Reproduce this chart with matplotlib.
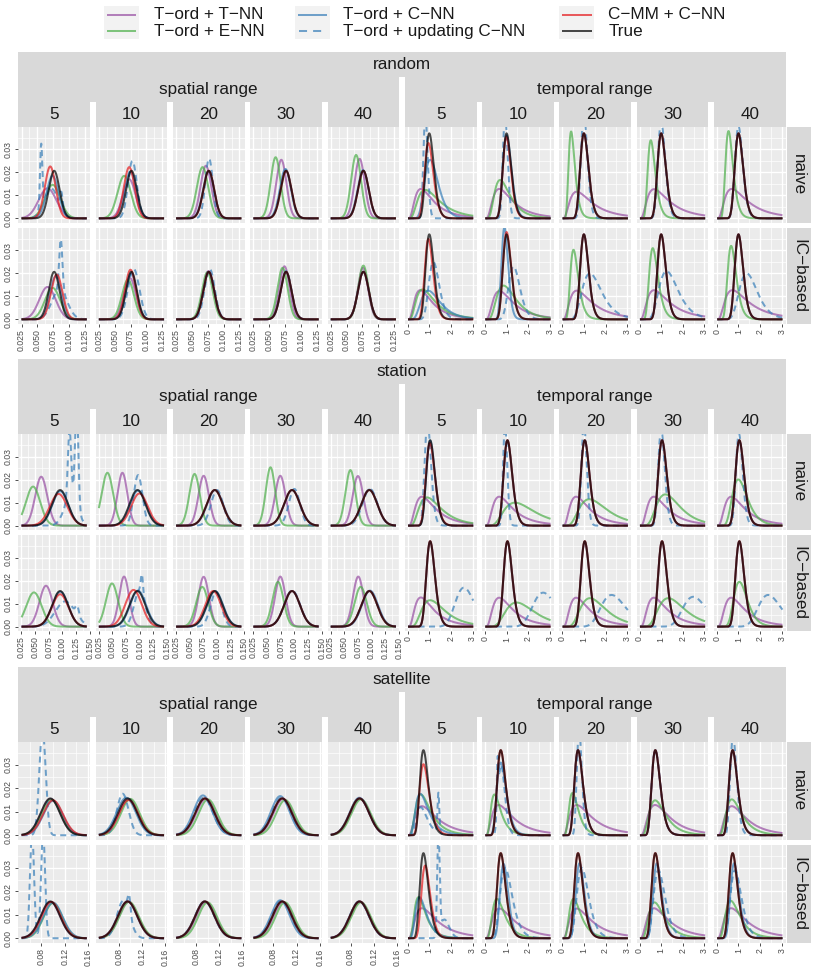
import numpy as np
import matplotlib.pyplot as plt
from matplotlib.patches import Rectangle
from matplotlib.ticker import FixedLocator, FixedFormatter

plt.rcParams['font.family'] = ['Liberation Sans', 'DejaVu Sans']

# ---- labels ----
methods = ['T−ord + T−NN', 'T−ord + E−NN', 'T−ord + C−NN',
           'T−ord + updating C−NN', 'C−MM + C−NN', 'True']
method_colors = ['#984EA3', '#4DAF4A', '#377EB8', '#377EB8', '#E41A1C', '#000000']
method_dashed = [False, False, False, True, False, False]

sections = ['random', 'station', 'satellite']
row_labels = ['naive', 'IC−based']
range_groups = ['spatial range', 'temporal range']
range_values = ['5', '10', '20', '30', '40']

# range of the estimates drawn in the spatial columns, per section
spatial_lo = [0.025, 0.0254, 0.046]
spatial_hi = [0.128, 0.1444, 0.158]
temporal_lo, temporal_hi = 0.02, 3.03

spatial_ticks = [[0.025, 0.050, 0.075, 0.100, 0.125],
                 [0.025, 0.050, 0.075, 0.100, 0.125, 0.150],
                 [0.08, 0.12, 0.16]]
spatial_minor = [[0.0375, 0.0625, 0.0875, 0.1125],
                 [0.0375, 0.0625, 0.0875, 0.1125, 0.1375],
                 [0.06, 0.10, 0.14]]
spatial_ticklabels = [['0.025', '0.050', '0.075', '0.100', '0.125'],
                      ['0.025', '0.050', '0.075', '0.100', '0.125', '0.150'],
                      ['0.08', '0.12', '0.16']]
temporal_ticks = [0, 1, 2, 3]
temporal_minor = [0.5, 1.5, 2.5]
y_ticks = [0.00, 0.01, 0.02, 0.03]
y_minor = [0.005, 0.015, 0.025, 0.035]
y_ticklabels = ['0.00', '0.01', '0.02', '0.03']

# ---- density curves ----
# each column: (mode, spread, height) or a list of such bumps;
# 5 spatial range columns then 5 temporal range columns
rnd_true = [(0.0765, 0.0085, 0.0207)] * 5 + [(1.0, 0.19, 0.037)] * 5
stn_true = [(0.0958, 0.0145, 0.0155)] * 5 + [(1.04, 0.19, 0.0372)] * 5
sat_true = [(0.0954, 0.0165, 0.0157)] * 5 + [(0.73, 0.27, 0.0363)] * 5

rnd_naive_tnn = [(0.066, 0.014, 0.0131), (0.073, 0.010, 0.0170), (0.072, 0.0085, 0.0229),
                 (0.069, 0.008, 0.0255), (0.0706, 0.008, 0.0259),
                 (0.61, 0.65, 0.0128), (0.66, 0.65, 0.0128), (0.67, 0.7, 0.0116),
                 (0.67, 0.7, 0.0127), (0.69, 0.7, 0.0128)]
rnd_naive_enn = [(0.074, 0.012, 0.0146), (0.065, 0.0105, 0.0185), (0.0667, 0.009, 0.0223),
                 (0.060, 0.0078, 0.0266), (0.065, 0.0078, 0.0276),
                 (0.81, 0.6, 0.0124), (0.70, 0.5, 0.0167), (0.41, 0.35, 0.0378),
                 (0.52, 0.33, 0.034), (0.54, 0.32, 0.038)]
rnd_naive_cnn = [(0.074, 0.0095, 0.0185), (0.075, 0.009, 0.0204), (0.076, 0.0087, 0.0205),
                 (0.0755, 0.0086, 0.0215), (0.076, 0.0086, 0.021),
                 (1.04, 0.3, 0.0255), (1.0, 0.2, 0.036), (1.0, 0.19, 0.037),
                 (1.0, 0.19, 0.037), (1.0, 0.19, 0.037)]
rnd_naive_ucnn = [[(0.056, 0.0018, 0.028), (0.072, 0.011, 0.013), (0.088, 0.002, 0.007)],
                  (0.078, 0.007, 0.025), (0.077, 0.006, 0.026),
                  (0.076, 0.0086, 0.021), (0.0765, 0.0085, 0.0207),
                  (0.82, 0.12, 0.045), (0.93, 0.12, 0.045), (1.0, 0.15, 0.045),
                  (1.0, 0.17, 0.042), (1.0, 0.18, 0.04)]
rnd_naive_cmm = [(0.0703, 0.0085, 0.0226), (0.073, 0.0085, 0.0223), (0.0765, 0.0085, 0.0207),
                 (0.0765, 0.0085, 0.0207), (0.0765, 0.0085, 0.0207),
                 (0.96, 0.21, 0.0328), (0.99, 0.19, 0.0355), (1.0, 0.19, 0.037),
                 (1.0, 0.19, 0.037), (1.0, 0.19, 0.037)]

rnd_ic_tnn = [(0.066, 0.013, 0.0141), (0.074, 0.0095, 0.018), (0.076, 0.0085, 0.021),
              (0.074, 0.008, 0.0231), (0.076, 0.008, 0.0224),
              (0.58, 0.65, 0.0127), (0.67, 0.65, 0.0123), (0.67, 0.7, 0.0125),
              (0.67, 0.7, 0.0127), (0.72, 0.7, 0.0127)]
rnd_ic_enn = [(0.074, 0.012, 0.0137), (0.071, 0.0095, 0.0173), (0.0743, 0.0085, 0.0205),
              (0.071, 0.008, 0.0224), (0.0765, 0.008, 0.0234),
              (0.69, 0.6, 0.013), (0.86, 0.5, 0.0147), (0.52, 0.35, 0.0303),
              (0.61, 0.33, 0.031), (0.66, 0.3, 0.032)]
rnd_ic_cnn = [(0.079, 0.009, 0.0188), (0.076, 0.0086, 0.020), (0.0765, 0.0085, 0.0207),
              (0.0765, 0.0085, 0.0207), (0.0765, 0.0085, 0.0207),
              (0.95, 0.45, 0.0125), (0.9, 0.17, 0.040), (1.0, 0.19, 0.037),
              (1.0, 0.19, 0.037), (1.0, 0.19, 0.037)]
rnd_ic_ucnn = [[(0.087, 0.0025, 0.022), (0.085, 0.012, 0.013)],
               (0.080, 0.009, 0.022), (0.078, 0.008, 0.022),
               (0.0765, 0.0085, 0.021), (0.0765, 0.0085, 0.0207),
               (1.19, 0.2, 0.025), (1.32, 0.2, 0.023), (1.28, 0.35, 0.020),
               (1.25, 0.35, 0.021), (1.38, 0.3, 0.020)]
rnd_ic_cmm = [(0.0806, 0.009, 0.0195), (0.075, 0.0085, 0.0216), (0.0765, 0.0085, 0.0207),
              (0.0765, 0.0085, 0.0207), (0.0765, 0.0085, 0.0207),
              (0.96, 0.2, 0.035), (1.0, 0.19, 0.038), (1.0, 0.19, 0.037),
              (1.0, 0.19, 0.037), (1.0, 0.19, 0.037)]

stn_naive_tnn = [(0.0613, 0.011, 0.0213), (0.0684, 0.009, 0.023), (0.0756, 0.0095, 0.0217),
                 (0.0744, 0.0095, 0.0217), (0.075, 0.0095, 0.0216),
                 (0.66, 0.65, 0.0126), (0.66, 0.65, 0.0126), (0.64, 0.65, 0.0126),
                 (0.66, 0.65, 0.0126), (0.66, 0.65, 0.0126)]
stn_naive_enn = [(0.0464, 0.013, 0.017), (0.041, 0.0105, 0.023), (0.059, 0.0095, 0.0225),
                 (0.0565, 0.0085, 0.0254), (0.0613, 0.009, 0.0242),
                 (0.89, 0.55, 0.0123), (1.39, 0.5, 0.010), (1.25, 0.5, 0.0115),
                 (1.19, 0.45, 0.0136), (0.99, 0.35, 0.0201)]
stn_naive_cnn = [(0.096, 0.0145, 0.015), (0.097, 0.0145, 0.0153), (0.0965, 0.0145, 0.0155),
                 (0.096, 0.0145, 0.0155), (0.0958, 0.0145, 0.0157),
                 (1.04, 0.19, 0.037), (1.04, 0.19, 0.037), (1.04, 0.19, 0.037),
                 (1.04, 0.19, 0.037), (1.04, 0.19, 0.037)]
stn_naive_ucnn = [[(0.113, 0.003, 0.03), (0.126, 0.003, 0.045), (0.115, 0.012, 0.012)],
                  (0.097, 0.008, 0.022), (0.100, 0.011, 0.0155),
                  (0.100, 0.010, 0.016), (0.097, 0.0135, 0.016),
                  (0.92, 0.16, 0.045), (0.93, 0.1, 0.045), (1.0, 0.12, 0.045),
                  (1.0, 0.15, 0.042), (1.02, 0.15, 0.040)]
stn_naive_cmm = [(0.093, 0.016, 0.0138), (0.0994, 0.015, 0.014), (0.0958, 0.0145, 0.0155),
                 (0.0958, 0.0145, 0.0155), (0.0958, 0.0145, 0.0155),
                 (1.03, 0.2, 0.036), (1.04, 0.19, 0.0372), (1.04, 0.19, 0.0372),
                 (1.04, 0.19, 0.0372), (1.04, 0.19, 0.0372)]

stn_ic_tnn = [(0.070, 0.012, 0.0178), (0.0714, 0.009, 0.0218), (0.0756, 0.0095, 0.0217),
              (0.0744, 0.0095, 0.0218), (0.0756, 0.0095, 0.0218),
              (0.61, 0.65, 0.0127), (0.66, 0.65, 0.0126), (0.64, 0.65, 0.0126),
              (0.66, 0.65, 0.0126), (0.66, 0.65, 0.0126)]
stn_ic_enn = [(0.048, 0.014, 0.0149), (0.0494, 0.011, 0.0188), (0.073, 0.011, 0.0173),
              (0.0702, 0.010, 0.0195), (0.080, 0.011, 0.0173),
              (1.04, 0.5, 0.0115), (1.46, 0.45, 0.0105), (1.28, 0.45, 0.0124),
              (1.33, 0.45, 0.0124), (1.04, 0.3, 0.0195)]
stn_ic_cnn = [(0.096, 0.0145, 0.0152), (0.097, 0.0145, 0.0157), (0.0965, 0.0145, 0.0155),
              (0.0958, 0.0145, 0.0155), (0.097, 0.0145, 0.0157),
              (1.04, 0.19, 0.037), (1.04, 0.19, 0.037), (1.04, 0.19, 0.037),
              (1.04, 0.19, 0.037), (1.04, 0.19, 0.037)]
stn_ic_ucnn = [[(0.105, 0.018, 0.011), (0.127, 0.003, 0.004)],
               [(0.1, 0.01, 0.016), (0.104, 0.002, 0.008)],
               (0.098, 0.010, 0.015), (0.096, 0.0145, 0.0158), (0.096, 0.0145, 0.0155),
               (2.6, 0.17, 0.017), (2.69, 0.2, 0.0148), (2.28, 0.25, 0.0138),
               (2.48, 0.22, 0.013), (2.37, 0.22, 0.0138)]
stn_ic_cmm = [(0.0958, 0.015, 0.0141), (0.0887, 0.015, 0.016), (0.093, 0.0145, 0.0155),
              (0.0958, 0.0145, 0.0155), (0.0958, 0.0145, 0.0155),
              (1.04, 0.19, 0.0372), (1.04, 0.19, 0.0372), (1.04, 0.19, 0.0372),
              (1.04, 0.19, 0.0372), (1.04, 0.19, 0.0372)]

sat_naive_tnn = [(0.096, 0.0165, 0.0155), (0.097, 0.0165, 0.0155), (0.097, 0.0165, 0.0155),
                 (0.097, 0.0165, 0.0155), (0.0965, 0.0165, 0.0156),
                 (0.66, 0.7, 0.0124), (0.63, 0.7, 0.0129), (0.67, 0.7, 0.0129),
                 (0.72, 0.65, 0.0129), (0.69, 0.65, 0.0124)]
sat_naive_enn = [(0.097, 0.0165, 0.0152), (0.1, 0.016, 0.0155), (0.1006, 0.016, 0.0153),
                 (0.1006, 0.016, 0.015), (0.098, 0.0165, 0.0153),
                 (0.61, 0.55, 0.0174), (0.44, 0.5, 0.0174), (0.47, 0.45, 0.018),
                 (0.72, 0.5, 0.0149), (0.69, 0.5, 0.0153)]
sat_naive_cnn = [(0.1, 0.0165, 0.0147), (0.093, 0.0165, 0.016), (0.092, 0.016, 0.017),
                 (0.092, 0.016, 0.0167), (0.095, 0.0165, 0.016),
                 (0.58, 0.5, 0.0177), (0.73, 0.3, 0.031), (0.73, 0.27, 0.0363),
                 (0.73, 0.27, 0.0363), (0.73, 0.27, 0.0363)]
sat_naive_ucnn = [(0.082, 0.0055, 0.045), (0.087, 0.01, 0.0177), (0.093, 0.016, 0.016),
                  (0.094, 0.0165, 0.016), (0.0955, 0.0165, 0.0157),
                  [(1.42, 0.03, 0.017), (0.6, 0.4, 0.012)],
                  [(0.58, 0.06, 0.02), (0.75, 0.2, 0.03)],
                  (0.78, 0.15, 0.045), (0.73, 0.27, 0.0363), (0.75, 0.2, 0.042)]
sat_naive_cmm = [(0.1, 0.017, 0.0149), (0.097, 0.0165, 0.015), (0.0954, 0.0165, 0.0157),
                 (0.0954, 0.0165, 0.0157), (0.0954, 0.0165, 0.0157),
                 (0.73, 0.3, 0.0303), (0.73, 0.27, 0.0363), (0.73, 0.27, 0.0363),
                 (0.73, 0.27, 0.0363), (0.73, 0.27, 0.0363)]

sat_ic_tnn = [(0.096, 0.0165, 0.0155), (0.097, 0.0165, 0.0155), (0.097, 0.0165, 0.0155),
              (0.097, 0.0165, 0.0155), (0.0965, 0.0165, 0.0156),
              (0.66, 0.7, 0.0128), (0.66, 0.7, 0.0127), (0.66, 0.7, 0.0127),
              (0.66, 0.7, 0.0128), (0.66, 0.7, 0.0128)]
sat_ic_enn = [(0.1, 0.016, 0.015), (0.098, 0.0165, 0.0155), (0.1, 0.016, 0.0153),
              (0.1, 0.016, 0.0153), (0.098, 0.0165, 0.0153),
              (0.5, 0.5, 0.0175), (0.55, 0.5, 0.0168), (0.52, 0.5, 0.0168),
              (0.69, 0.5, 0.0153), (0.64, 0.5, 0.016)]
sat_ic_cnn = [(0.1, 0.0165, 0.0152), (0.095, 0.0165, 0.0157), (0.095, 0.0165, 0.0157),
              (0.092, 0.016, 0.0162), (0.095, 0.0165, 0.0157),
              (0.55, 0.45, 0.0175), (0.86, 0.22, 0.0317), (0.8, 0.25, 0.032),
              (0.8, 0.25, 0.032), (0.8, 0.25, 0.032)]
sat_ic_ucnn = [[(0.064, 0.0035, 0.045), (0.083, 0.0035, 0.045)],
               [(0.088, 0.011, 0.016), (0.098, 0.0025, 0.008)],
               (0.095, 0.0165, 0.0157), (0.094, 0.0165, 0.016), (0.095, 0.0165, 0.0157),
               [(1.42, 0.04, 0.045), (1.7, 0.12, 0.008)],
               (0.93, 0.3, 0.030), (0.9, 0.3, 0.030), (0.87, 0.3, 0.029), (0.84, 0.3, 0.029)]
sat_ic_cmm = [(0.097, 0.0165, 0.0155), (0.0954, 0.0165, 0.0157), (0.0954, 0.0165, 0.0157),
              (0.0954, 0.0165, 0.0157), (0.0954, 0.0165, 0.0157),
              (0.81, 0.25, 0.031), (0.73, 0.27, 0.0363), (0.73, 0.27, 0.0363),
              (0.73, 0.27, 0.0363), (0.73, 0.27, 0.0363)]

curves = [
    [[rnd_naive_tnn, rnd_naive_enn, rnd_naive_cnn, rnd_naive_ucnn, rnd_naive_cmm, rnd_true],
     [rnd_ic_tnn, rnd_ic_enn, rnd_ic_cnn, rnd_ic_ucnn, rnd_ic_cmm, rnd_true]],
    [[stn_naive_tnn, stn_naive_enn, stn_naive_cnn, stn_naive_ucnn, stn_naive_cmm, stn_true],
     [stn_ic_tnn, stn_ic_enn, stn_ic_cnn, stn_ic_ucnn, stn_ic_cmm, stn_true]],
    [[sat_naive_tnn, sat_naive_enn, sat_naive_cnn, sat_naive_ucnn, sat_naive_cmm, sat_true],
     [sat_ic_tnn, sat_ic_enn, sat_ic_cnn, sat_ic_ucnn, sat_ic_cmm, sat_true]],
]


def density(x, bumps, temporal):
    if isinstance(bumps, tuple):
        bumps = [bumps]
    y = np.zeros_like(x)
    for c, w, h in bumps:
        if temporal:
            y += h * np.exp(-0.5 * (np.log(x / c) / w) ** 2)
        else:
            y += h * np.exp(-0.5 * ((x - c) / w) ** 2)
    return y


# ---- layout (pixels) ----
W, H = 830, 969
fig = plt.figure(figsize=(W / 100, H / 100), dpi=100)

sec_top = [51.7, 359.0, 666.7]
row_h = [96.0, 96.0, 98.0]
col_x0, col_step, col_w = 18.3, 77.3, 71.7
strip_h = 25.0
row_gap = 5.0
strip_col = '#D9D9D9'
text_col = '#1A1A1A'
big = 12.3
small = 6.3
lw = 1.45
dash = (0, (3, 2.2))


def px_axes(x0, y0, w, h, **kw):
    return fig.add_axes([x0 / W, 1 - (y0 + h) / H, w / W, h / H], **kw)


over = fig.add_axes([0, 0, 1, 1])
over.set_xlim(0, W)
over.set_ylim(H, 0)
over.axis('off')


def strip(x0, y0, w, h, label, rot=0):
    over.add_patch(Rectangle((x0, y0), w, h, facecolor=strip_col, edgecolor='none'))
    over.text(x0 + w / 2, y0 + h / 2, label, ha='center', va='center',
              rotation=rot, fontsize=big, color=text_col)


for s, sec in enumerate(sections):
    top = sec_top[s]
    right = col_x0 + 9 * col_step + col_w
    strip(col_x0, top, right - col_x0, strip_h, sec)
    for g in range(2):
        gx = col_x0 + 5 * g * col_step
        strip(gx, top + strip_h, 4 * col_step + col_w, strip_h, range_groups[g])
    for c in range(10):
        strip(col_x0 + c * col_step, top + 2 * strip_h, col_w, strip_h, range_values[c % 5])

    for r in range(2):
        y0 = top + 3 * strip_h + r * (row_h[s] + row_gap)
        strip(right + 1.0, y0, 24.3, row_h[s], row_labels[r], rot=-90)
        for c in range(10):
            temporal = c >= 5
            ax = px_axes(col_x0 + c * col_step, y0, col_w, row_h[s])
            ax.set_facecolor('#EBEBEB')
            for sp in ax.spines.values():
                sp.set_visible(False)
            ax.set_axisbelow(True)

            if temporal:
                lo, hi = temporal_lo, temporal_hi
                xt, xm = temporal_ticks, temporal_minor
                xl = [str(t) for t in temporal_ticks]
            else:
                lo, hi = spatial_lo[s], spatial_hi[s]
                xt, xm = spatial_ticks[s], spatial_minor[s]
                xl = spatial_ticklabels[s]
            pad = 0.05 * (hi - lo)
            ax.set_xlim(lo - pad, hi + pad)
            ax.set_ylim(-0.0019, 0.0399)

            ax.xaxis.set_major_locator(FixedLocator(xt))
            ax.xaxis.set_minor_locator(FixedLocator(xm))
            ax.yaxis.set_major_locator(FixedLocator(y_ticks))
            ax.yaxis.set_minor_locator(FixedLocator(y_minor))
            ax.grid(which='major', color='white', lw=1.0)
            ax.grid(which='minor', color='white', lw=0.5)
            ax.tick_params(which='minor', length=0)
            ax.tick_params(which='major', length=2.5, width=0.6, color='#333333',
                           labelsize=small, labelcolor='#4D4D4D', pad=1.5)

            if r == 1:
                ax.xaxis.set_major_formatter(FixedFormatter(xl))
                ax.tick_params(axis='x', labelrotation=90)
            else:
                ax.tick_params(axis='x', length=0, labelbottom=False)
            if c == 0:
                ax.yaxis.set_major_formatter(FixedFormatter(y_ticklabels))
                ax.tick_params(axis='y', labelrotation=90)
                for lab in ax.get_yticklabels():
                    lab.set_va('center')
            else:
                ax.tick_params(axis='y', length=0, labelleft=False)

            x = np.linspace(lo, hi, 900)
            for m in range(6):
                y = density(x, curves[s][r][m][c], temporal)
                ax.plot(x, y, color=method_colors[m], alpha=0.7, lw=lw,
                        linestyle=dash if method_dashed[m] else '-',
                        solid_capstyle='butt')

# ---- legend ----
key_x = [104.0, 295.0, 559.3]
text_x = [154.0, 343.0, 608.3]
line_y = [14.7, 31.0]
for k in range(3):
    over.add_patch(Rectangle((key_x[k], 6.0), 34.7, 33.3,
                             facecolor='#F2F2F2', edgecolor='none'))
    for j in range(2):
        m = 2 * k + j
        over.plot([key_x[k] + 3.5, key_x[k] + 31.2], [line_y[j], line_y[j]],
                  color=method_colors[m], alpha=0.7, lw=lw,
                  linestyle=(0, (4, 3)) if method_dashed[m] else '-')
        over.text(text_x[k], line_y[j], methods[m], ha='left', va='center',
                  fontsize=big, color=text_col)

fig.savefig('out.png', dpi=100)
